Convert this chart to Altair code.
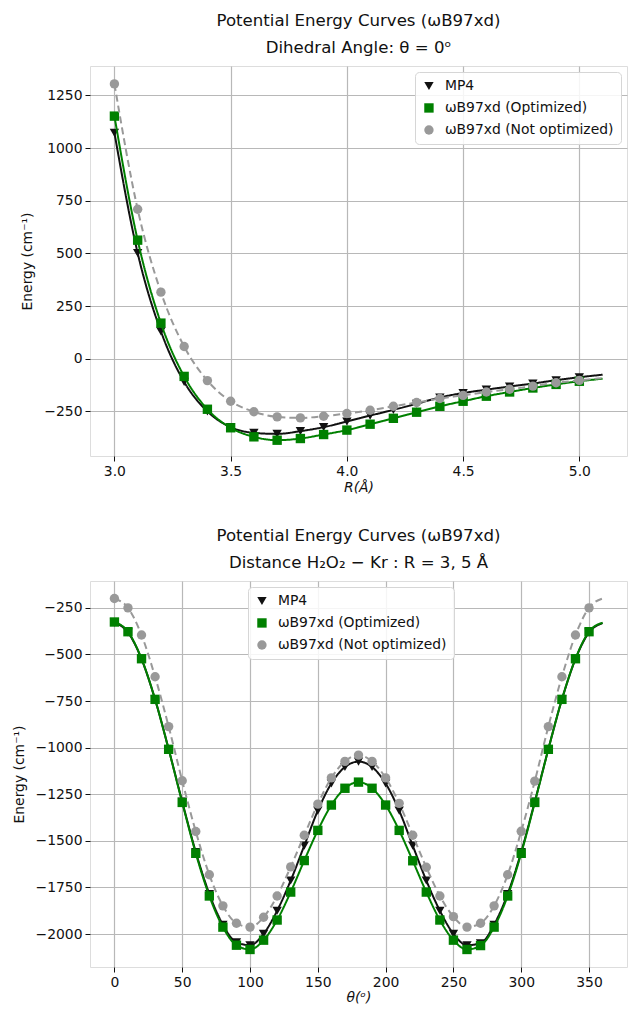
import altair as alt
import pandas as pd

FONT = "DejaVu Sans"

# ---------------- data: top panel (dihedral angle 0) ----------------
R = [3.0, 3.1, 3.2, 3.3, 3.4, 3.5, 3.6, 3.7, 3.8, 3.9, 4.0,
     4.1, 4.2, 4.3, 4.4, 4.5, 4.6, 4.7, 4.8, 4.9, 5.0]
top_mp4 = [1073, 502, 130, -110, -250, -325, -352, -357, -344, -325, -298,
           -270, -243, -214, -184, -163, -147, -132, -118, -102, -88]
top_opt = [1152, 563, 169, -84, -240, -328, -371, -387, -379, -360, -339,
           -311, -283, -254, -226, -202, -178, -158, -139, -122, -107]
top_nopt = [1305, 710, 316, 58, -104, -202, -252, -276, -281, -273, -260,
            -245, -226, -208, -189, -174, -158, -145, -130, -114, -103]
R_end = 5.1
top_end = [-76, -95, -92]

# ---------------- data: bottom panel (R = 3.5 A) ----------------
theta = list(range(0, 360, 10))
bot_mp4 = [-330, -382, -525, -742, -1008, -1290, -1560, -1785, -1950, -2045,
           -2060, -1999, -1875, -1713, -1526, -1338, -1192, -1104, -1075, -1104,
           -1192, -1338, -1526, -1713, -1875, -1999, -2060, -2050, -1950, -1785,
           -1560, -1290, -1008, -742, -525, -382]
bot_opt = [-326, -378, -523, -741, -1009, -1294, -1567, -1796, -1963, -2060,
           -2083, -2033, -1925, -1775, -1606, -1444, -1308, -1218, -1185, -1218,
           -1308, -1444, -1607, -1775, -1925, -2033, -2083, -2062, -1963, -1796,
           -1567, -1294, -1009, -741, -523, -378]
bot_nopt = [-200, -250, -396, -620, -887, -1178, -1450, -1682, -1849, -1942,
            -1963, -1910, -1796, -1640, -1470, -1303, -1162, -1074, -1040, -1074,
            -1162, -1299, -1470, -1642, -1796, -1907, -1963, -1942, -1849, -1682,
            -1449, -1180, -887, -620, -396, -250]
theta_end = 360
bot_end = [-332, -330, -200]

series_names = ["MP4", "ωB97xd (Optimized)", "ωB97xd (Not optimized)"]
colors = ["#111111", "#008000", "#999999"]
shapes = ["triangle-down", "square", "circle"]
dashes = [[1, 0], [1, 0], [7, 4]]

color_scale = alt.Scale(domain=series_names, range=colors)
shape_scale = alt.Scale(domain=series_names, range=shapes)


def panel(xvals, xend, ys_list, ends, xscale, yscale, xaxis, yaxis, legend, title, w, h):
    layers = []
    for name, ys, end, dash, col in zip(series_names, ys_list, ends, dashes, colors):
        ln = pd.DataFrame({"x": list(xvals) + [xend], "y": list(ys) + [end]})
        pts = pd.DataFrame({"x": list(xvals), "y": list(ys), "series": name})
        line = alt.Chart(ln).mark_line(
            interpolate="monotone", strokeWidth=2, strokeDash=dash, color=col
        ).encode(
            x=alt.X("x:Q", scale=xscale, axis=xaxis),
            y=alt.Y("y:Q", scale=yscale, axis=yaxis),
        )
        pt = alt.Chart(pts).mark_point(filled=True, size=88, opacity=1).encode(
            x=alt.X("x:Q", scale=xscale, axis=xaxis),
            y=alt.Y("y:Q", scale=yscale, axis=yaxis),
            color=alt.Color("series:N", scale=color_scale, legend=legend),
            shape=alt.Shape("series:N", scale=shape_scale, legend=legend),
        )
        layers += [line, pt]
    return alt.layer(*layers).properties(width=w, height=h, title=title)


def legend_def(**kw):
    return alt.Legend(
        title=None, fillColor="rgba(255,255,255,0.85)", strokeColor="#d6d6d6",
        cornerRadius=4, padding=7, labelFontSize=13.9, labelFont=FONT,
        labelColor="#111", symbolSize=88, rowPadding=7, symbolStrokeWidth=0,
        labelOffset=9, labelLimit=300,
        **kw,
    )


axis_common = dict(labelFontSize=13.9, titleFontSize=13.9, labelFont=FONT,
                   titleFont=FONT, titleFontWeight="normal", labelColor="#111",
                   titleColor="#111", tickColor="#111", tickSize=5,
                   gridColor="#b8b8b8", gridWidth=1.2, domain=False,
                   labelPadding=3)

title_common = dict(fontSize=16.6, font=FONT, fontWeight="normal", lineHeight=27,
                    offset=9, anchor="middle", frame="group", color="#111")

top = panel(
    R, R_end, [top_mp4, top_opt, top_nopt], top_end,
    alt.Scale(domain=[2.895, 5.205], nice=False, zero=False),
    alt.Scale(domain=[-462, 1390], nice=False, zero=False),
    alt.Axis(title="R(Å)", values=[3.0, 3.5, 4.0, 4.5, 5.0], format=".1f",
             titleFontStyle="italic", titlePadding=3, **axis_common),
    alt.Axis(title="Energy (cm⁻¹)", values=[-250, 0, 250, 500, 750, 1000, 1250],
             format="d", titlePadding=9, **axis_common),
    legend_def(orient="top-right", offset=6),
    alt.TitleParams(["Potential Energy Curves (ωB97xd)", "Dihedral Angle: θ = 0ᵒ"],
                    **title_common),
    537, 390,
)

bottom = panel(
    theta, theta_end, [bot_mp4, bot_opt, bot_nopt], bot_end,
    alt.Scale(domain=[-18, 378], nice=False, zero=False),
    alt.Scale(domain=[-2177, -106], nice=False, zero=False),
    alt.Axis(title="θ(ᵒ)", values=[0, 50, 100, 150, 200, 250, 300, 350], format="d",
             titleFontStyle="italic", titlePadding=2, **axis_common),
    alt.Axis(title="Energy (cm⁻¹)",
             values=[-2000, -1750, -1500, -1250, -1000, -750, -500, -250],
             format="d", titlePadding=9, **axis_common),
    legend_def(orient="none", legendX=158, legendY=6),
    alt.TitleParams(["Potential Energy Curves (ωB97xd)", "Distance H₂O₂ − Kr : R = 3, 5 Å"],
                    **title_common),
    537, 386,
)

chart = alt.vconcat(top, bottom, spacing=31).resolve_scale(
    color="independent", shape="independent"
).resolve_legend(color="independent", shape="independent").properties(
    padding={"left": 3, "top": 4, "right": 0, "bottom": 0}
).configure_view(stroke="#111", strokeWidth=1.3).configure(font=FONT)

chart.save("out.html", embed_options={"renderer": "svg", "actions": False})
